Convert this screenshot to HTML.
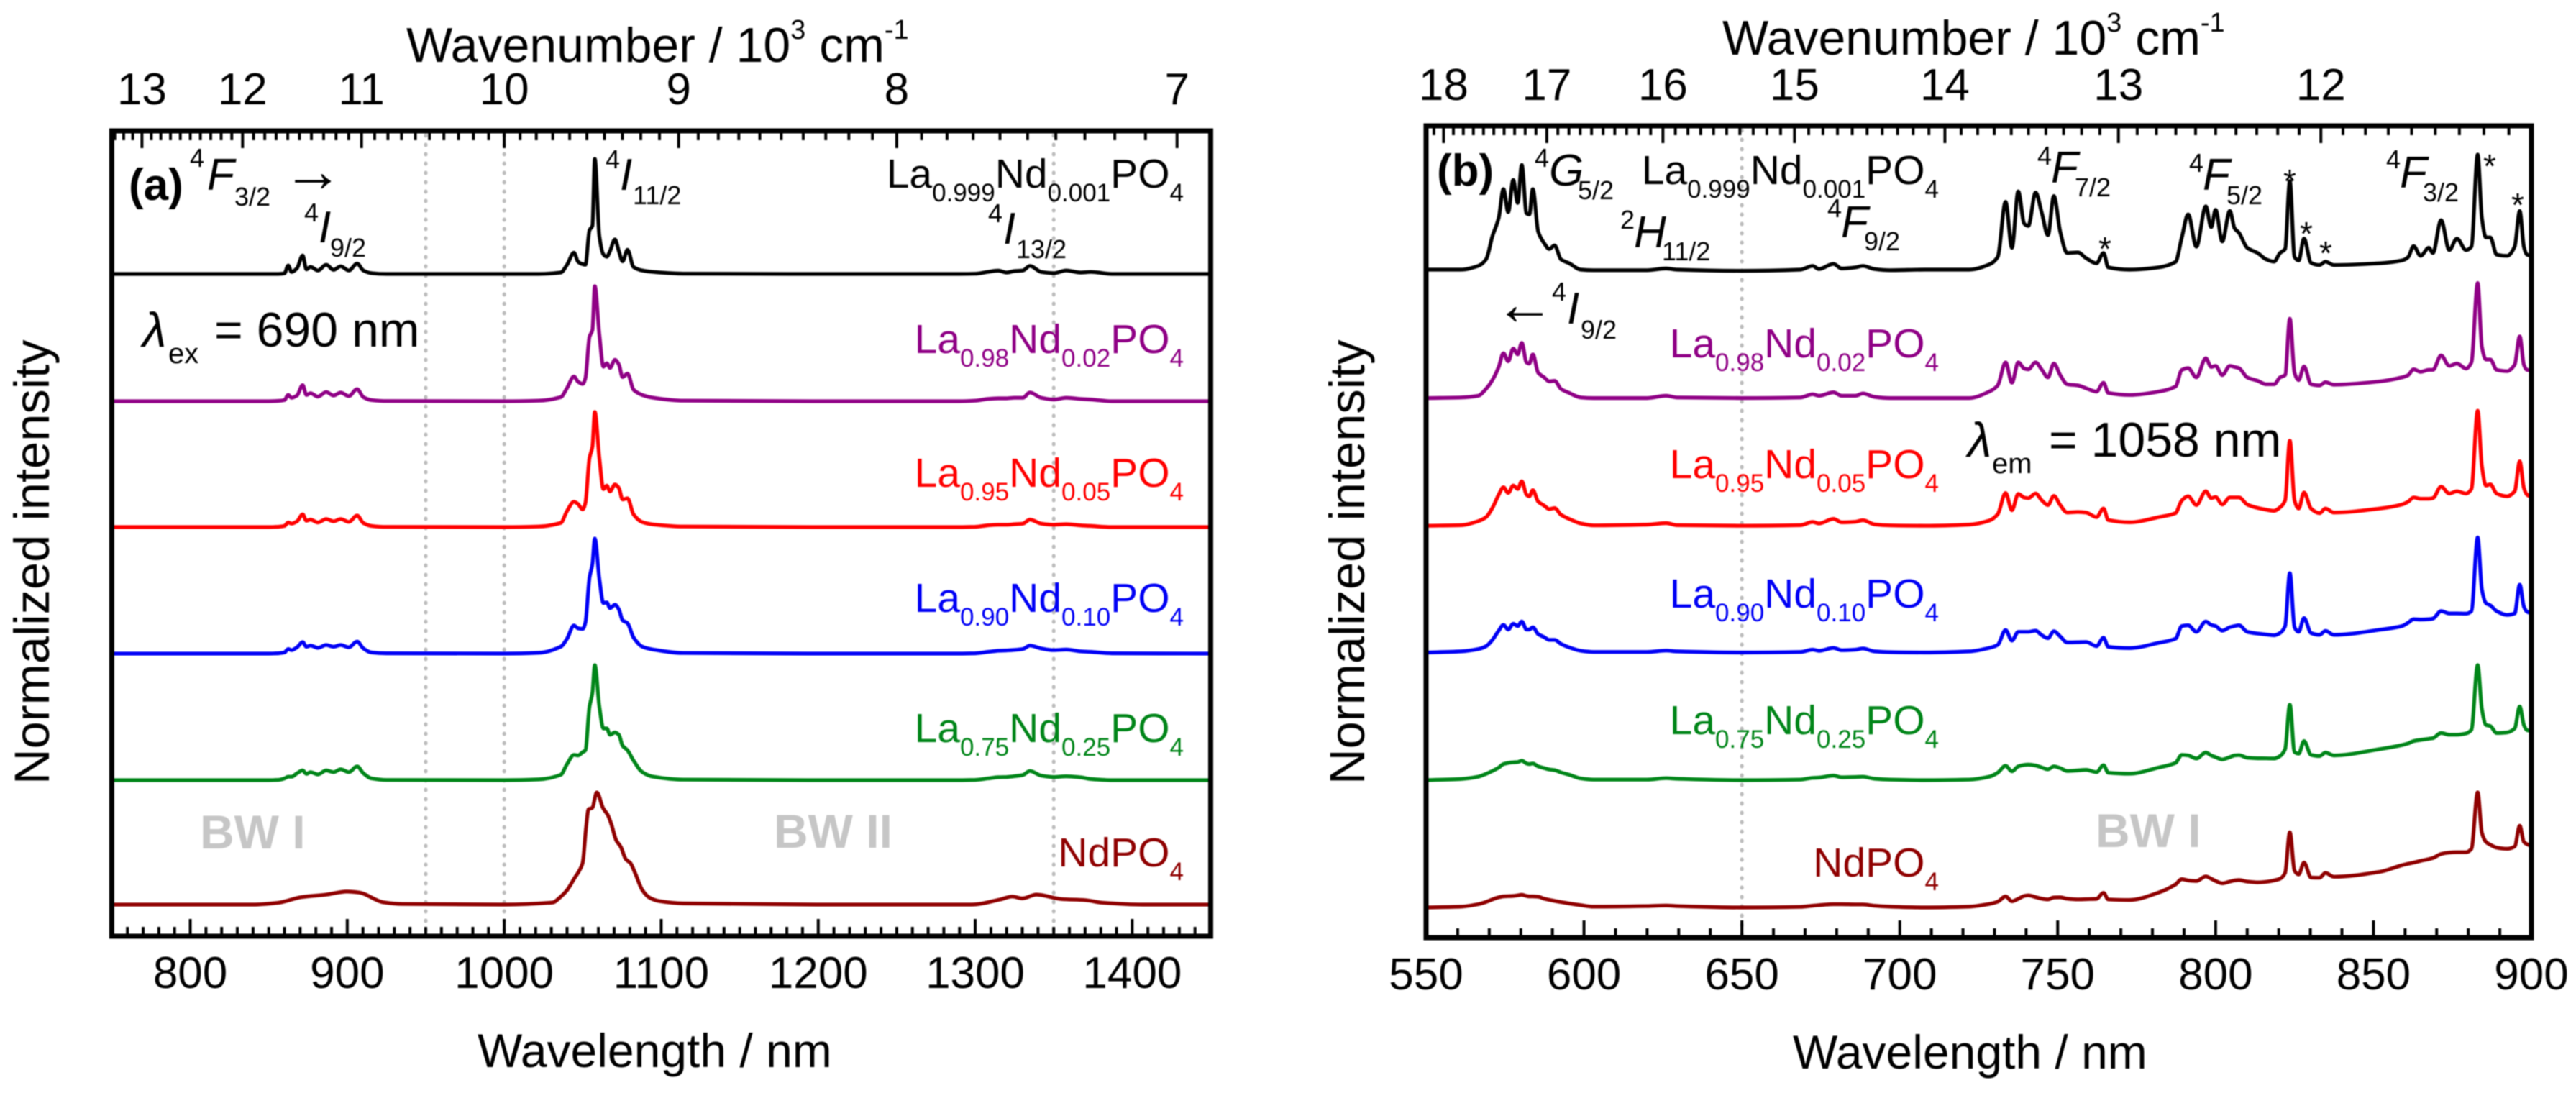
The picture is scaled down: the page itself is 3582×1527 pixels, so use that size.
<!DOCTYPE html>
<html>
<head>
<meta charset="utf-8">
<title>Nd-doped LaPO4 emission and excitation spectra</title>
<style>
html,body{margin:0;padding:0;background:#fff;}
svg{display:block;filter:blur(0.8px);}
text{font-family:"Liberation Sans",sans-serif;fill:#000;white-space:pre;}
.tick{font-size:62px;text-anchor:middle;}
.axt{font-size:66px;}
.top{font-size:68px;}
.ssup{font-size:38px;}
.yt{font-size:68.7px;}
.f{font-size:57px;text-anchor:end;}
.fs{font-size:35px;}
.it{font-size:62px;font-style:italic;}
.arrow{font-size:84px;}
.m{font-size:36px;}
.pl{font-size:62px;font-weight:bold;}
.bw{font-size:66px;font-weight:bold;fill:#c6c6c6;}
.ast{font-size:46px;text-anchor:middle;}
.eq{font-size:68px;}
.sb{font-size:40px;}
</style>
</head>
<body>
<svg id="fig" xmlns="http://www.w3.org/2000/svg" width="3582" height="1527" viewBox="0 0 3582 1527">
<rect x="0" y="0" width="3582" height="1527" fill="#fff"/>
<g id="marks"></g>

<!-- panel a text -->
<text class="top" x="565" y="86">Wavenumber / 10<tspan class="ssup" dy="-32">3</tspan><tspan dy="32"> cm</tspan><tspan class="ssup" dy="-32">-1</tspan></text>
<text class="axt" x="664" y="1484">Wavelength / nm</text>
<text class="yt" transform="translate(68,1091) rotate(-90)">Normalized intensity</text>
<text class="pl" x="179" y="278">(a)</text>
<g><text class="m" x="264" y="232">4</text><text class="it" x="288" y="264">F</text><text class="m" x="326" y="286">3/2</text><text class="arrow" x="393" y="266">→</text></g>
<g><text class="m" x="423" y="308">4</text><text class="it" x="443" y="337">I</text><text class="m" x="459" y="357">9/2</text></g>
<g><text class="m" x="842" y="234">4</text><text class="it" x="862" y="264">I</text><text class="m" x="880" y="284">11/2</text></g>
<g><text class="m" x="1374" y="309">4</text><text class="it" x="1395" y="339">I</text><text class="m" x="1413" y="359">13/2</text></g>
<g><text class="eq" x="198" y="482" style="font-style:italic">λ</text><text class="sb" x="234" y="505">ex</text><text class="eq" x="298" y="482">= 690 nm</text></g>
<text class="f" x="1646" y="261">La<tspan class="fs" dy="19">0.999</tspan><tspan dy="-19">Nd</tspan><tspan class="fs" dy="19">0.001</tspan><tspan dy="-19">PO</tspan><tspan class="fs" dy="19">4</tspan></text>
<text class="f" x="1646" y="491" style="fill:#8f0085">La<tspan class="fs" dy="19">0.98</tspan><tspan dy="-19">Nd</tspan><tspan class="fs" dy="19">0.02</tspan><tspan dy="-19">PO</tspan><tspan class="fs" dy="19">4</tspan></text>
<text class="f" x="1646" y="677" style="fill:#ff0000">La<tspan class="fs" dy="19">0.95</tspan><tspan dy="-19">Nd</tspan><tspan class="fs" dy="19">0.05</tspan><tspan dy="-19">PO</tspan><tspan class="fs" dy="19">4</tspan></text>
<text class="f" x="1646" y="851" style="fill:#0000f5">La<tspan class="fs" dy="19">0.90</tspan><tspan dy="-19">Nd</tspan><tspan class="fs" dy="19">0.10</tspan><tspan dy="-19">PO</tspan><tspan class="fs" dy="19">4</tspan></text>
<text class="f" x="1646" y="1032" style="fill:#008518">La<tspan class="fs" dy="19">0.75</tspan><tspan dy="-19">Nd</tspan><tspan class="fs" dy="19">0.25</tspan><tspan dy="-19">PO</tspan><tspan class="fs" dy="19">4</tspan></text>
<text class="f" x="1646" y="1205" style="fill:#8f0000">NdPO<tspan class="fs" dy="19">4</tspan></text>
<text class="bw" x="278" y="1180">BW I</text>
<text class="bw" x="1076" y="1179">BW II</text>

<!-- panel b text -->
<text class="top" x="2395" y="76">Wavenumber / 10<tspan class="ssup" dy="-32">3</tspan><tspan dy="32"> cm</tspan><tspan class="ssup" dy="-32">-1</tspan></text>
<text class="axt" x="2493" y="1486">Wavelength / nm</text>
<text class="yt" transform="translate(1897,1091) rotate(-90)">Normalized intensity</text>
<text class="pl" x="1998" y="258">(b)</text>
<g><text class="m" x="2134" y="232">4</text><text class="it" x="2154" y="258">G</text><text class="m" x="2194" y="277">5/2</text></g>
<g><text class="m" x="2253" y="318">2</text><text class="it" x="2272" y="344">H</text><text class="m" x="2311" y="362">11/2</text></g>
<g><text class="m" x="2541" y="302">4</text><text class="it" x="2560" y="330">F</text><text class="m" x="2592" y="348">9/2</text></g>
<g><text class="m" x="2833" y="229">4</text><text class="it" x="2852" y="254">F</text><text class="m" x="2885" y="273">7/2</text></g>
<g><text class="m" x="3044" y="239">4</text><text class="it" x="3063" y="264">F</text><text class="m" x="3096" y="284">5/2</text></g>
<g><text class="m" x="3318" y="234">4</text><text class="it" x="3337" y="261">F</text><text class="m" x="3369" y="280">3/2</text></g>
<g><text class="arrow" x="2078" y="451">←</text><text class="m" x="2158" y="418">4</text><text class="it" x="2179" y="450">I</text><text class="m" x="2198" y="471">9/2</text></g>
<g><text class="eq" x="2736" y="635" style="font-style:italic">λ</text><text class="sb" x="2770" y="658">em</text><text class="eq" x="2849" y="635">= 1058 nm</text></g>
<text class="f" x="2696" y="256">La<tspan class="fs" dy="19">0.999</tspan><tspan dy="-19">Nd</tspan><tspan class="fs" dy="19">0.001</tspan><tspan dy="-19">PO</tspan><tspan class="fs" dy="19">4</tspan></text>
<text class="f" x="2696" y="497" style="fill:#8f0085">La<tspan class="fs" dy="19">0.98</tspan><tspan dy="-19">Nd</tspan><tspan class="fs" dy="19">0.02</tspan><tspan dy="-19">PO</tspan><tspan class="fs" dy="19">4</tspan></text>
<text class="f" x="2696" y="665" style="fill:#ff0000">La<tspan class="fs" dy="19">0.95</tspan><tspan dy="-19">Nd</tspan><tspan class="fs" dy="19">0.05</tspan><tspan dy="-19">PO</tspan><tspan class="fs" dy="19">4</tspan></text>
<text class="f" x="2696" y="845" style="fill:#0000f5">La<tspan class="fs" dy="19">0.90</tspan><tspan dy="-19">Nd</tspan><tspan class="fs" dy="19">0.10</tspan><tspan dy="-19">PO</tspan><tspan class="fs" dy="19">4</tspan></text>
<text class="f" x="2696" y="1021" style="fill:#008518">La<tspan class="fs" dy="19">0.75</tspan><tspan dy="-19">Nd</tspan><tspan class="fs" dy="19">0.25</tspan><tspan dy="-19">PO</tspan><tspan class="fs" dy="19">4</tspan></text>
<text class="f" x="2696" y="1219" style="fill:#8f0000">NdPO<tspan class="fs" dy="19">4</tspan></text>
<text class="bw" x="2914" y="1178">BW I</text>
<g>
<text class="ast" x="2927" y="362">*</text>
<text class="ast" x="3184" y="268">*</text>
<text class="ast" x="3207" y="341">*</text>
<text class="ast" x="3234" y="368">*</text>
<text class="ast" x="3462" y="247">*</text>
<text class="ast" x="3501" y="301">*</text>
</g>
</svg>

<script>
// ---------- panel (a): emission, wavelength grid in nm, intensity in % of maximum ----------
const nmA = [750,850,856,860,862.4,864.5,868,871.6,874,876.6,
881.3,886.6,891.3,895.8,901,906.3,910.3,915.5,925,1000,
1022,1036,1040,1044.4,1047,1050,1051.7,1054.3,1056.2,1057.7,
1060.6,1063.2,1065.3,1067.4,1070.5,1073,1075.4,1078.5,1082.4,1088,
1095,1114,1200,1290,1300,1308,1314.7,1320,1325,1330.4,
1334.8,1342,1350,1358,1367,1373.7,1387,1450];
const aLa0999 = [0,0,0,.5,7.4,1.8,5,16,4,6.2,
3,8,3.6,6.7,3,9,3,.7,0,0,
0,1.3,8,18.5,10.7,8.5,8,38,42,100,
33,17,15,20,30,20,11,21,6,3,
1.8,.3,0,0,.2,1.8,2.9,1.3,2.5,3,
7,1.8,.7,3,1.3,1.8,0,0];
const aLa098 = [0,0,.3,1,5.5,3,5,14,5.5,7,
4,8,5,7.5,4.5,10.5,3.5,1,.2,0,
.5,3.5,11.5,21.5,17,15,20,56,62,100,
58,30,33,29,36,32,21,24,10,5.4,
3,.5,0,0,.5,2,2.5,2.5,3,3,
7.6,3,1.5,3,2,1.5,0,0];
const aLa095 = [0,0,.3,1,4,3,5,11,5.5,6.5,
4,7,5,7,4.5,10,3.5,1,.2,0,
.5,3.6,14,22,20,15.4,21,60,70,100,
60,33,36,31,37,34,24,25,11,4.3,
2.3,.5,0,0,.3,1.5,2,2,2.5,3,
6.5,3,2,2.5,1.5,1,0,0];
const aLa090 = [0,0,.3,1,4,3,5.5,10,6,7,
5,7.5,6,7.5,5.5,10.5,4.5,1,.3,0,
.7,6,13,24.5,22,21.5,27,66,78,100,
65,44,44.5,39.5,42.5,38.5,29,26.5,14,6,
3.5,.5,0,0,.3,1.5,2.5,2.8,3.2,4,
7,4.5,3,3.5,2,1.5,.3,0];
const aLa075 = [0,0,.3,1.5,3,3,6,8.5,5.5,7,
5,8.5,7,9.5,7,12,6,1.5,.2,0,
.7,4.7,14,22,21.5,24.4,26,64,76,100,
64,45,45,39.5,41.5,39.5,30,26,17,7,
3,.5,0,0,.3,1.5,2.6,2.8,3.5,4.5,
8,4,2.8,3.4,2.5,1,0,0];
const nmANd = [750,840,855.6,871,886.8,899.8,907.5,923,935,1000,
1030.8,1036.1,1040,1045,1047.6,1049.9,1052.2,1053.7,1056,1059,
1062.9,1065.9,1068.2,1071.3,1074.3,1077.4,1080.4,1083.5,1088,1092.6,
1098.8,1114,1200,1297.6,1315.8,1323.6,1330,1339,1354.8,1370,
1380.7,1406.8,1450];
const aNdPO4 = [0,0,1.5,6.5,8.7,11.3,10.5,2,.5,0,
1.8,7,12.5,23.5,29,36,68,83,84,97.5,
84,78,70,56,50,39.5,36,27,12.5,6,
3,1,0,0,4.4,7,5.4,8.7,4.8,3.9,
1.7,0,0];
// stacking offsets of each spectrum, in the same intensity units
const aOffsets = [575.6,465,355.6,245.6,135.6,27.5];
const aBottomTicks = [800,900,1000,1100,1200,1300,1400];
const aTopTicks = [13,12,11,10,9,8,7];
const aGuides = [950,1000,1350];

// ---------- panel (b): excitation ----------
const nmB = [550,561,566.5,569,571,573,574.5,576,577.6,579,
580.3,581.8,582.7,583.8,585.5,587.4,589,590.7,592.7,595.3,
599,603,620,626,629.5,650,668.5,672.4,674.4,679,
681.6,686,688.3,692,697,708,722,728.3,731,733.5,
735.5,737.5,739.4,740.7,743,745,746.9,748.8,750.8,753,
756.4,759,762.3,764.5,766,772.7,782,787.3,789.3,791.3,
793.9,796.9,798.6,800,802.1,804.5,806,807.4,810,813.3,
816,818.5,820.4,822,823.5,825,826.3,828,830.2,832.9,
834.8,837.4,852,859,861,862.7,864.9,867.5,868.8,871.4,
874,876.4,879.3,881,883,884.3,885.6,887,889,892.3,
894.7,896.3,897.6,898.6,900];
const bLa0999 = [0,0,3.3,9,29,45,70,50,78,58,
91,49,48,70,33,23,18,21,9,5.6,
0,-.5,-.5,1,0,-1,0,3.3,.5,5,
1,2,3.3,.5,-.5,0,0,4.5,11,59,
19,68,40,38,67,49,30,64,33,14.5,
15,10,5.6,14.5,2,0,2,6.7,28,48,
20,55,37,52,24.5,51,36,32,19,14.5,
9,7,14.5,18,77,11,8,27,6,4,
7,4,5.6,8,11,20.5,12,19,14.5,43,
17,27,17,20,100,45,28,28,13,12,
20,51,20,13,12];
const bLa098 = [0,.5,2,8,15.6,27,39,32,43,38,
48,31,30,38,22,18,14.5,15,8,4.5,
.5,0,0,2,.5,0,.5,3.3,2,5,
2,2,4,1,0,0,0,5.6,11,31,
13.4,31,25.7,25,31,24.5,18,30,20,12,
11,8.5,5.6,13.4,4.5,2.7,5.6,10,24.5,26,
18,34.6,27,28,20,28,27,26,18,15,
12,12,18,20,69,22,15.6,27.5,12,11,
13.8,11.6,14.5,18,20,25,22.8,24.5,24.5,37,
28,30,25.7,31,100,44.6,33.5,33.5,24.5,23.4,
29,53.6,29,24.5,24];
const bLa095 = [0,.5,4,7.5,15.5,27,33.5,28.5,35,32,
38.7,27,25.6,31,21,17.5,14.5,15.4,9.6,6,
2,.3,1,2.3,.5,0,.5,3.3,2,6,
3,3.5,4.8,1.2,.3,0,1,4.5,10,28.5,
13.5,27.7,24.5,24,28,22,18,26,18,11.5,
12,11.5,7.5,15,5,3,7.5,11,22,25.6,
18,30,24,25,18.5,24.6,24.6,24.6,18.5,15.5,
14,13,16,22,74,22,15,29,15,11,
15,11.5,15,18.5,21,24.6,23.5,23.5,24,34,
28,30,28,32,100,52,35,36,28,25.6,
30,56,33,27,25];
const bLa090 = [0,1,3,5.5,11,19,24,20,25,23,
27,20,20,22,16,13.4,11,11,7.6,4.5,
1.5,.5,.5,1.7,1,0,.5,2.5,1.5,4,
2,2.5,3.5,1,.3,0,1,4,6.7,19.6,
10.4,18,18,18,19,15,12.5,18.5,14,8.8,
9,9.2,5.6,12.9,5,3.8,8.5,12,23,23.7,
18,27,24,23,19,22,23,23.7,18,16.5,
15.7,15,17,23,69,22,18,30,17,15.4,
18.8,15.4,19.8,23,26,29,28.7,29,29.5,36,
34,34,33.8,36,100,55,43,41,36,32.7,
34,59,40,35.5,34];
const bLa075 = [0,1,3,5.5,8,11,14,15,15.5,15.7,
17,14.5,14,14.5,12,10.5,9.3,8.7,6.7,4.7,
1.5,.5,.5,1.7,1.2,0,.5,2,2.2,4,
2.5,2.7,3,1.2,.5,0,.5,3,6.5,12.5,
7.7,12,13.2,13.5,12.7,11,9.4,12,10.5,8,
8.5,9,7,13,6.5,5.6,11,15,22,21.5,
18.8,24,21.5,20,18,20,21.5,21.7,19.5,19,
18.9,18.8,21,27,65.6,24.5,23,34,22,21,
24,21.5,27,30.5,32,34,35,36,36.5,41,
39.5,39.5,40.6,43.8,100,62,48,47,41,41.5,
45,64,48,43.5,42.7];
const bNdPO4 = [0,.7,2.8,4.8,7,8.8,9.6,9.8,10,10.5,
11,10,9.6,9.6,9.3,7.6,6.6,5.7,4.7,3.5,
2,.7,1.2,1.7,1.2,0,.5,1.5,2,2.8,
2.8,2.6,2.6,1.5,.7,0,.7,3,5,9.6,
5.4,7.5,10,10.5,9,7.6,7,8.7,8.8,7.6,
7,7.2,7.5,12.7,7,6.5,13,20,24.6,23.5,
23,27,25,23,21,22.5,23.5,23.8,22.5,21.8,
22.3,23.5,25,30,65.4,32,28.7,39,26,25.8,
30,26.7,31,36.7,38,39,40.5,42,43,46.5,
47.7,48,48,51,100,65,57,54.5,52,51,
53,71,57,55,53.3];
const bOffsets = [580.6,469,358,247.8,136.9,26.25];
const bBottomTicks = [550,600,650,700,750,800,850,900];
const bTopTicks = [18,17,16,15,14,13,12];
const bGuides = [650];

const SVGNS = 'http://www.w3.org/2000/svg';
const marks = document.getElementById('marks');

function linear(d0, d1, r0, r1) {
  return function (v) { return r0 + (v - d0) * (r1 - r0) / (d1 - d0); };
}

const panelA = {
  id: 'a', left: 155.4, right: 1683.5, top: 182, bottom: 1302,
  x: linear(750, 1450, 155.4, 1683.5),
  y: function (v) { return 1302 - v * 1.6; },
  bottomTicks: aBottomTicks, bottomMinorFrom: 760, bottomMinorTo: 1440,
  topTicks: aTopTicks, topMinorFrom: 133, topMinorTo: 69,
  tickY: 145, bottomLabelY: 1374
};
const panelB = {
  id: 'b', left: 1983, right: 3520, top: 175, bottom: 1304,
  x: linear(550, 900, 1983, 3520),
  y: function (v) { return 1304 - v * 1.6; },
  bottomTicks: bBottomTicks, bottomMinorFrom: 560, bottomMinorTo: 890,
  topTicks: bTopTicks, topMinorFrom: 181, topMinorTo: 112,
  tickY: 139, bottomLabelY: 1376
};

function drawLine(name, x1, y1, x2, y2, stroke, width) {
  const el = document.createElementNS(SVGNS, 'line');
  
  
  el.setAttribute('x1', x1);
  el.setAttribute('y1', y1);
  el.setAttribute('x2', x2);
  el.setAttribute('y2', y2);
  el.setAttribute('stroke', stroke);
  el.setAttribute('stroke-width', width);
  marks.appendChild(el);
  return el;
}

function drawLabel(name, x, y, str) {
  const el = document.createElementNS(SVGNS, 'text');
  
  
  el.setAttribute('class', 'tick');
  el.setAttribute('x', x);
  el.setAttribute('y', y);
  el.textContent = str;
  marks.appendChild(el);
}

function drawGuides(p, guides) {
  guides.forEach(function (nm) {
    const el = drawLine(p.id + '-guide-' + nm, p.x(nm), p.top + 6, p.x(nm), p.bottom - 4, '#bcbcbc', 5);
    el.setAttribute('stroke-dasharray', '1 12');
    el.setAttribute('stroke-linecap', 'round');
  });
}

// monotone cubic path through the data points: rounds the peaks without overshoot
function monotonePath(xs, ys) {
  const n = xs.length;
  const slope = [];
  for (let i = 0; i < n - 1; i++) {
    slope.push((ys[i + 1] - ys[i]) / (xs[i + 1] - xs[i]));
  }
  const tan = [slope[0]];
  for (let i = 1; i < n - 1; i++) {
    const a = slope[i - 1];
    const b = slope[i];
    tan.push(a * b <= 0 ? 0 : 2 * a * b / (a + b));
  }
  tan.push(slope[n - 2]);
  let d = 'M' + xs[0].toFixed(1) + ' ' + ys[0].toFixed(1);
  for (let i = 0; i < n - 1; i++) {
    const h = (xs[i + 1] - xs[i]) / 3;
    d += 'C' + (xs[i] + h).toFixed(1) + ' ' + (ys[i] + tan[i] * h).toFixed(1) + ' ' +
      (xs[i + 1] - h).toFixed(1) + ' ' + (ys[i + 1] - tan[i + 1] * h).toFixed(1) + ' ' +
      xs[i + 1].toFixed(1) + ' ' + ys[i + 1].toFixed(1);
  }
  return d;
}

function drawSeries(p, wavelengths, values, offset, color, name) {
  const xs = wavelengths.map(function (w) { return p.x(w); });
  const ys = values.map(function (v) { return p.y(v + offset); });
  const el = document.createElementNS(SVGNS, 'path');
  
  
  el.setAttribute('d', monotonePath(xs, ys));
  el.setAttribute('fill', 'none');
  el.setAttribute('stroke', color);
  el.setAttribute('stroke-width', '5.2');
  el.setAttribute('stroke-linejoin', 'round');
  marks.appendChild(el);
}

function drawAxes(p) {
  const frame = document.createElementNS(SVGNS, 'rect');
  
  
  frame.setAttribute('x', p.left);
  frame.setAttribute('y', p.top);
  frame.setAttribute('width', p.right - p.left);
  frame.setAttribute('height', p.bottom - p.top);
  frame.setAttribute('fill', 'none');
  frame.setAttribute('stroke', '#000');
  frame.setAttribute('stroke-width', '7');
  marks.appendChild(frame);

  // bottom wavelength axis
  p.bottomTicks.forEach(function (nm) {
    drawLine(p.id + '-bottom-major-tick', p.x(nm), p.bottom, p.x(nm), p.bottom - 24, '#000', 4);
    drawLabel(p.id + '-bottom-tick-label', p.x(nm), p.bottomLabelY, String(nm));
  });
  for (let nm = p.bottomMinorFrom; nm <= p.bottomMinorTo; nm += 10) {
    if (p.bottomTicks.indexOf(nm) < 0) {
      drawLine(p.id + '-bottom-minor-tick', p.x(nm), p.bottom, p.x(nm), p.bottom - 13, '#000', 4);
    }
  }

  // top wavenumber axis (reciprocal of wavelength)
  p.topTicks.forEach(function (k) {
    const x = p.x(10000 / k);
    drawLine(p.id + '-top-major-tick', x, p.top, x, p.top + 24, '#000', 4);
    drawLabel(p.id + '-top-tick-label', x, p.tickY, String(k));
  });
  for (let k10 = p.topMinorFrom; k10 >= p.topMinorTo; k10--) {
    if (k10 % 10 !== 0) {
      const x = p.x(100000 / k10);
      if (x > p.left + 3 && x < p.right - 3) {
        drawLine(p.id + '-top-minor-tick', x, p.top, x, p.top + 13, '#000', 4);
      }
    }
  }
}

drawGuides(panelA, aGuides);
drawSeries(panelA, nmA, aLa0999, aOffsets[0], '#000000', 'a-spectrum-la0999');
drawSeries(panelA, nmA, aLa098, aOffsets[1], '#8f0085', 'a-spectrum-la098');
drawSeries(panelA, nmA, aLa095, aOffsets[2], '#ff0000', 'a-spectrum-la095');
drawSeries(panelA, nmA, aLa090, aOffsets[3], '#0000f5', 'a-spectrum-la090');
drawSeries(panelA, nmA, aLa075, aOffsets[4], '#008518', 'a-spectrum-la075');
drawSeries(panelA, nmANd, aNdPO4, aOffsets[5], '#8f0000', 'a-spectrum-ndpo4');
drawAxes(panelA);

drawGuides(panelB, bGuides);
drawSeries(panelB, nmB, bLa0999, bOffsets[0], '#000000', 'b-spectrum-la0999');
drawSeries(panelB, nmB, bLa098, bOffsets[1], '#8f0085', 'b-spectrum-la098');
drawSeries(panelB, nmB, bLa095, bOffsets[2], '#ff0000', 'b-spectrum-la095');
drawSeries(panelB, nmB, bLa090, bOffsets[3], '#0000f5', 'b-spectrum-la090');
drawSeries(panelB, nmB, bLa075, bOffsets[4], '#008518', 'b-spectrum-la075');
drawSeries(panelB, nmB, bNdPO4, bOffsets[5], '#8f0000', 'b-spectrum-ndpo4');
drawAxes(panelB);
</script>
</body>
</html>
